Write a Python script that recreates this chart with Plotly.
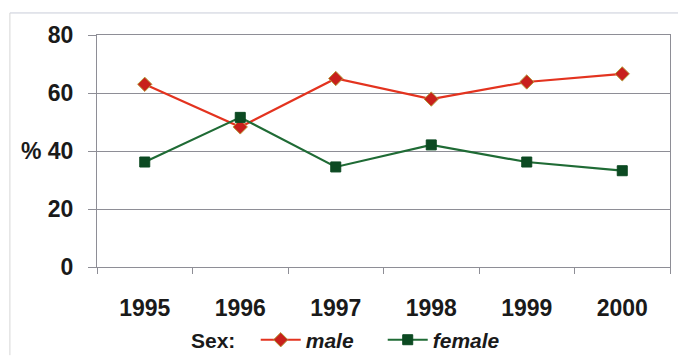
import plotly.graph_objects as go

years = ["1995", "1996", "1997", "1998", "1999", "2000"]
male = [63.0, 48.3, 65.0, 57.9, 63.8, 66.6]
female = [36.2, 51.6, 34.5, 42.1, 36.2, 33.2]
y_ticks = [0, 20, 40, 60, 80]

FONT = "Liberation Sans, Arial, sans-serif"
GRID = "#8e8e96"

fig = go.Figure()
fig.add_trace(go.Scatter(
    x=years, y=male, name="male", mode="lines+markers",
    line=dict(color="#e3331f", width=2.2),
    marker=dict(symbol="diamond", size=11, color="#c8201c",
                line=dict(color="#b59a3a", width=1)),
))
fig.add_trace(go.Scatter(
    x=years, y=female, name="female", mode="lines+markers",
    line=dict(color="#1f6b35", width=2.2),
    marker=dict(symbol="square", size=10, color="#0c4a22",
                line=dict(color="#0c4a22", width=1)),
))

fig.update_layout(
    width=678, height=356,
    margin=dict(l=97, r=8, t=35, b=89, autoexpand=False),
    paper_bgcolor="white", plot_bgcolor="white",
    font=dict(family=FONT, color="#1a1a1a"),
    showlegend=True,
    legend=dict(
        orientation="h", x=0.277, xanchor="left", y=-0.315, yanchor="middle",
        font=dict(family=FONT, size=21, weight="bold", style="italic", color="#1a1a1a"),
        bgcolor="rgba(0,0,0,0)", itemwidth=40, tracegroupgap=0,
        entrywidth=72, entrywidthmode="pixels",
    ),
    xaxis=dict(
        type="category", range=[-0.5, 5.5], automargin=False,
        showgrid=False, showline=True, linecolor=GRID, linewidth=1, mirror=True,
        ticks="outside", tickson="boundaries", ticklen=6, tickcolor=GRID,
        tickfont=dict(family=FONT, size=23, weight="bold", color="#1a1a1a"),
        ticklabelstandoff=20,
    ),
    yaxis=dict(
        range=[0, 80], tickvals=y_ticks, automargin=False,
        showgrid=True, gridcolor=GRID, gridwidth=1,
        showline=True, linecolor=GRID, linewidth=1, mirror=True,
        ticks="outside", ticklen=8, tickcolor=GRID,
        tickfont=dict(family=FONT, size=23, weight="bold", color="#1a1a1a"),
        ticklabelstandoff=10, zeroline=False,
    ),
    annotations=[
        dict(text="%", x=-0.094, xref="paper", xanchor="right", y=40, yref="y",
             yanchor="middle", showarrow=False,
             font=dict(family=FONT, size=23, weight="bold", color="#1a1a1a")),
        dict(text="Sex:", x=0.244, xref="paper", xanchor="right", y=-0.315, yref="paper",
             yanchor="middle", showarrow=False,
             font=dict(family=FONT, size=21, weight="bold", color="#1a1a1a")),
    ],
    shapes=[
        dict(type="line", xref="paper", yref="paper", x0=-0.152, x1=1.02, y0=1.095, y1=1.095,
             line=dict(color="#c9ccd8", width=1)),
        dict(type="line", xref="paper", yref="paper", x0=-0.152, x1=-0.152, y0=-0.38, y1=1.095,
             line=dict(color="#d6d6d6", width=1)),
    ],
)

fig.write_html("out.html", config={"displayModeBar": False})

# remove the browser's default body margin so the figure sits at the page origin
with open("out.html", encoding="utf-8") as f:
    html = f.read()
html = html.replace("<body>", '<body style="margin:0;padding:0;">', 1)
with open("out.html", "w", encoding="utf-8") as f:
    f.write(html)
